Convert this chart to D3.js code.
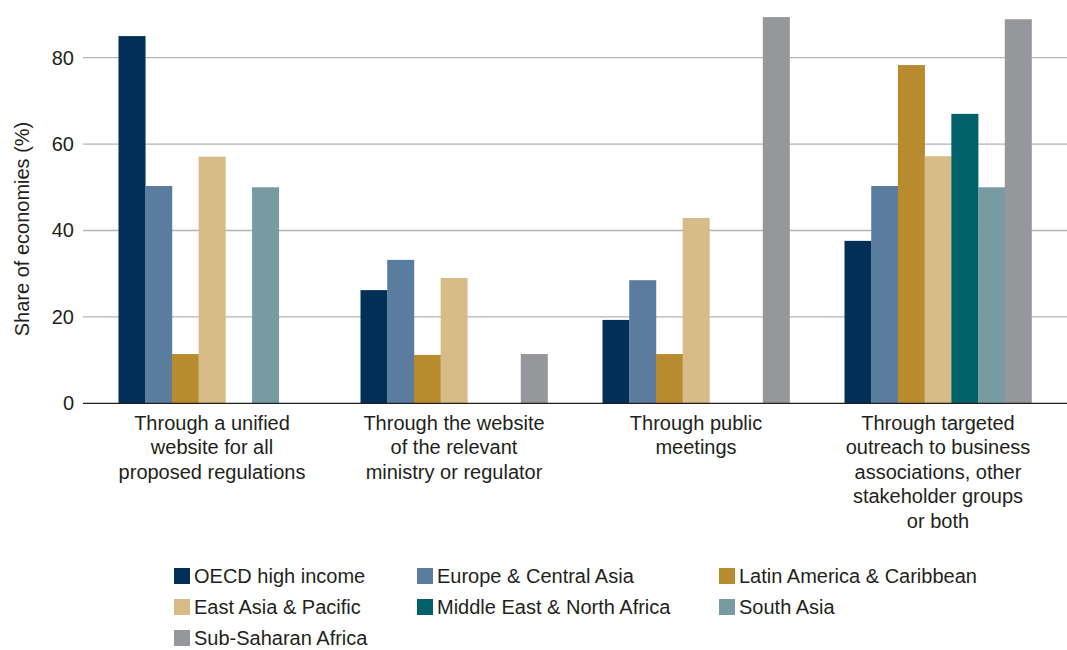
<!DOCTYPE html>
<html>
<head>
<meta charset="utf-8">
<script src="https://cdn.jsdelivr.net/npm/d3@7"></script>
<style>
  html, body { margin: 0; padding: 0; background: #ffffff; }
  svg { display: block; }
  text { font-family: "Liberation Sans", Arial, Helvetica, sans-serif; fill: #231f20; }
</style>
</head>
<body>
<svg id="chart" width="1067" height="650"></svg>
<script>
// ---- Data ----
const categoryLines = [
  ["Through a unified", "website for all", "proposed regulations"],
  ["Through the website", "of the relevant", "ministry or regulator"],
  ["Through public", "meetings"],
  ["Through targeted", "outreach to business", "associations, other", "stakeholder groups", "or both"]
];
const categories = categoryLines.map(l => l.join(" "));

const seriesNames = [
  "OECD high income",
  "Europe & Central Asia",
  "Latin America & Caribbean",
  "East Asia & Pacific",
  "Middle East & North Africa",
  "South Asia",
  "Sub-Saharan Africa"
];
const seriesColors = ["#022f55", "#5a7d9f", "#b88b2f", "#d8bc87", "#026168", "#789ba2", "#96979b"];

const oecdHighIncome       = [85.0, 26.2, 19.3, 37.6];
const europeCentralAsia    = [50.3, 33.2, 28.5, 50.3];
const latinAmericaCaribbean= [11.4, 11.2, 11.4, 78.3];
const eastAsiaPacific      = [57.1, 29.0, 42.9, 57.2];
const middleEastNorthAfrica= [null, null, null, 67.0];
const southAsia            = [50.0, null, null, 50.0];
const subSaharanAfrica     = [null, 11.4, 89.4, 88.9];
const seriesValues = [oecdHighIncome, europeCentralAsia, latinAmericaCaribbean,
  eastAsiaPacific, middleEastNorthAfrica, southAsia, subSaharanAfrica];

const yTicks = [0, 20, 40, 60, 80];
const yTitle = "Share of economies (%)";

// ---- Layout ----
const svg = d3.select("#chart");
const plotLeft = 83, plotRight = 1067, yZero = 403.3, y80 = 57.7;

const y = d3.scaleLinear().domain([0, 80]).range([yZero, y80]);
const x0 = d3.scaleBand().domain(categories).range([plotLeft, plotRight])
  .paddingInner(0.2273).paddingOuter(0.1467);
const x1 = d3.scaleBand().domain(seriesNames).range([0, x0.bandwidth()]).padding(0);
const color = d3.scaleOrdinal().domain(seriesNames).range(seriesColors);

// gridlines
svg.append("g").selectAll("line").data(yTicks.filter(t => t > 0)).join("line")
  .attr("x1", plotLeft).attr("x2", plotRight)
  .attr("y1", d => y(d)).attr("y2", d => y(d))
  .attr("stroke", "#b3b3b3").attr("stroke-width", 1.3);

// y tick labels
const yAxis = d3.axisLeft(y).tickValues(yTicks).tickSize(0).tickPadding(9);
const ya = svg.append("g").attr("transform", `translate(${plotLeft},0)`).call(yAxis);
ya.select(".domain").remove();
ya.selectAll("text").attr("font-size", 20).attr("fill", "#231f20")
  .style("font-family", '"Liberation Sans", Arial, Helvetica, sans-serif');

// y title
svg.append("text")
  .attr("transform", `translate(29,229) rotate(-90)`)
  .attr("text-anchor", "middle")
  .attr("font-size", 20)
  .text(yTitle);

// bars
const barData = [];
categories.forEach((c, ci) => {
  seriesNames.forEach((s, si) => {
    const v = seriesValues[si][ci];
    if (v != null) barData.push({ c, s, v });
  });
});
svg.append("g").selectAll("rect").data(barData).join("rect")
  .attr("x", d => x0(d.c) + x1(d.s))
  .attr("width", x1.bandwidth() + 0.3)
  .attr("y", d => y(d.v))
  .attr("height", d => y(0) - y(d.v))
  .attr("fill", d => color(d.s));

// zero axis line
svg.append("line")
  .attr("x1", plotLeft).attr("x2", plotRight)
  .attr("y1", y(0)).attr("y2", y(0))
  .attr("stroke", "#231f20").attr("stroke-width", 1.2);

// category labels
const catG = svg.append("g").selectAll("text").data(categoryLines).join("text")
  .attr("text-anchor", "middle")
  .attr("font-size", 20)
  .attr("x", (d, i) => x0(categories[i]) + x0.bandwidth() / 2)
  .attr("y", 429.5);
catG.selectAll("tspan").data(d => d).join("tspan")
  .attr("x", function () { return d3.select(this.parentNode).attr("x"); })
  .attr("dy", (d, i) => i === 0 ? 0 : 24.5)
  .text(d => d);

// legend
const legendCols = 3, legendX = [174, 417, 719], legendY0 = 576, legendRowH = 31;
const leg = svg.append("g").selectAll("g").data(seriesNames).join("g")
  .attr("transform", (d, i) => `translate(${legendX[i % legendCols]},${legendY0 + Math.floor(i / legendCols) * legendRowH})`);
leg.append("rect").attr("x", 0).attr("y", -8).attr("width", 16).attr("height", 16)
  .attr("fill", d => color(d));
leg.append("text").attr("x", 20).attr("y", 0).attr("dy", "0.35em")
  .attr("font-size", 20).text(d => d);
</script>
</body>
</html>
